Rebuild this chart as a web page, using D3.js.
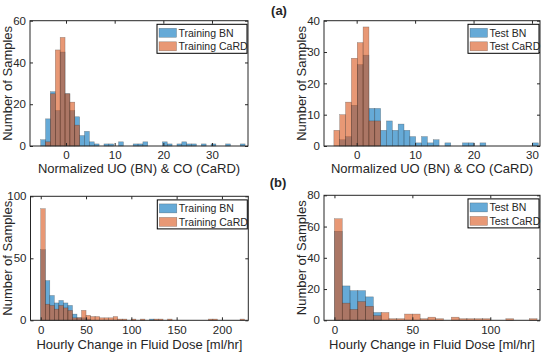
<!DOCTYPE html>
<html><head><meta charset="utf-8">
<script src="https://cdn.jsdelivr.net/npm/d3@7"></script>
<style>
body{margin:0;background:#fff}
text{font-family:"Liberation Sans",Arial,sans-serif;fill:#262626}
</style>
</head><body>
<svg id="c" width="550" height="354"></svg>
<script>
// ---------- data ----------
const uoBinWidth = 1;
const uoTrainBinStart = -5.2;
const uoTrainBN = [3,13,26,17,45,25,17,14,5,7,2,1,0,1,1,0,2,0,0,1,1,2,0,0,0,2,1,0,1,2,1,1,0,1,0,1,0,0,1,0,0,1];
const uoTrainCaRD = [0,2,25,46,52,25,21,10];
const uoTestBinStart = -3.9;
const uoTestBN = [0,2,3,13,26,29,12,12,5,8,5,7,5,3,1,3,1,2,0,1,0,0,1,1,0,1,0,0,0,0,0,0,0,0,1];
const uoTestCaRD = [5,10,14,28,33,38,8,8];
const fluidBinWidth = 5;
const fluidBinStart = 0;
const fluidTrainBN = [57,32,20,14,16,14,12,5,2,2,1,0,0,0,0,0,0,0,0,0,0,0,0,0,1];
const fluidTrainCaRD = [90,13,12,9,12,10,8,2,2,8,4,3,3,2,2,2,3,1,1,0,1,0,1,0,0,1,1,0,1,0,0,0,0,0,0,0,0,1,1,0,0,0,0,0,1];
const fluidTestBN = [57,22,19,19,15,5];
const fluidTestCaRD = [65,11,7,12,9,3,5,1,1,4,4,1,2,1,0,2,1,1,1,1,0,0,1,0,0,1];

const uoXTicks = [0,10,20,30];
const uoTrainYTicks = [0,20,40,60];
const uoTestYTicks = [0,10,20,30,40];
const fluidTrainXTicks = [0,50,100,150,200];
const fluidTrainYTicks = [0,50,100];
const fluidTestXTicks = [0,50,100];
const fluidTestYTicks = [0,20,40,60,80];

const uoXLabel = "Normalized UO (BN) & CO (CaRD)";
const fluidXLabel = "Hourly Change in Fluid Dose [ml/hr]";
const yLabel = "Number of Samples";
const trainLegend = ["Training BN","Training CaRD"];
const testLegend = ["Test BN","Test CaRD"];
const panelTags = ["(a)","(b)"];

// ---------- layout ----------
const blue = "rgb(0,114,189)", orange = "rgb(217,83,25)";
const panels = [
  {bn:uoTrainBN, card:uoTrainCaRD, start:uoTrainBinStart, w:uoBinWidth,
   box:[30,248,20.7,146], xdom:[-7.4,37.4], ydom:[0,60], xt:uoXTicks, yt:uoTrainYTicks,
   xl:uoXLabel, leg:trainLegend, legW:90, tickBase:159, labBase:173.3},
  {bn:uoTestBN, card:uoTestCaRD, start:uoTestBinStart, w:uoBinWidth,
   box:[324,540,20.7,146], xdom:[-5.59,31.37], ydom:[0,40], xt:uoXTicks, yt:uoTestYTicks,
   xl:uoXLabel, leg:testLegend, legW:71, tickBase:159, labBase:173.3},
  {bn:fluidTrainBN, card:fluidTrainCaRD, start:fluidBinStart, w:fluidBinWidth,
   box:[30.5,248.3,196.3,320.3], xdom:[-11.3,229.1], ydom:[0,100], xt:fluidTrainXTicks, yt:fluidTrainYTicks,
   xl:fluidXLabel, leg:trainLegend, legW:90, tickBase:334, labBase:348.6},
  {bn:fluidTestBN, card:fluidTestCaRD, start:fluidBinStart, w:fluidBinWidth,
   box:[324,540,195.3,320.3], xdom:[-6.7,131.9], ydom:[0,80], xt:fluidTestXTicks, yt:fluidTestYTicks,
   xl:fluidXLabel, leg:testLegend, legW:71, tickBase:334, labBase:348.6}
];

const svg = d3.select("#c");
const tickFs = 11.5, labFs = 13, legFs = 10.5;

panels.forEach(p => {
  const [L,R,T,B] = p.box;
  const x = d3.scaleLinear().domain(p.xdom).range([L,R]);
  const y = d3.scaleLinear().domain(p.ydom).range([B,T]);
  const g = svg.append("g");

  function bars(vals, color){
    const d = vals.map((v,i)=>({x0:p.start+i*p.w, x1:p.start+(i+1)*p.w, v})).filter(d=>d.v>0);
    g.append("g").selectAll("rect").data(d).join("rect")
      .attr("x", d=>x(d.x0)).attr("width", d=>x(d.x1)-x(d.x0))
      .attr("y", d=>y(d.v)).attr("height", d=>y(0)-y(d.v))
      .attr("fill", color).attr("fill-opacity",0.6)
      .attr("stroke","#262626").attr("stroke-opacity",0.45).attr("stroke-width",0.5);
  }
  bars(p.bn, blue);
  bars(p.card, orange);

  // axes
  const ax = g.append("g").attr("transform",`translate(0,${B})`)
    .call(d3.axisBottom(x).tickValues(p.xt).tickSize(-3).tickPadding(p.tickBase-B-0.71*tickFs));
  const at = g.append("g").attr("transform",`translate(0,${T})`)
    .call(d3.axisTop(x).tickValues(p.xt).tickSize(-3).tickFormat(""));
  const al = g.append("g").attr("transform",`translate(${L},0)`)
    .call(d3.axisLeft(y).tickValues(p.yt).tickSize(-3).tickPadding(4));
  const ar = g.append("g").attr("transform",`translate(${R},0)`)
    .call(d3.axisRight(y).tickValues(p.yt).tickSize(-3).tickFormat(""));
  [ax,at,al,ar].forEach(a=>{
    a.select(".domain").remove();
    a.selectAll("line").attr("stroke","#262626");
    a.selectAll("text").style("font-size",tickFs+"px").attr("fill","#262626")
      .style("font-family",'"Liberation Sans",Arial,sans-serif');
  });
  g.append("rect").attr("x",L).attr("y",T).attr("width",R-L).attr("height",B-T)
    .attr("fill","none").attr("stroke","#262626").attr("stroke-width",1);

  // labels
  g.append("text").attr("x",(L+R)/2).attr("y",p.labBase).attr("text-anchor","middle")
    .style("font-size",labFs+"px").text(p.xl);
  g.append("text").attr("transform",`translate(${L-18.5},${(T+B)/2}) rotate(-90)`)
    .attr("text-anchor","middle").style("font-size",labFs+"px").text(yLabel);

  // legend
  const lx = R-1-p.legW, ly = T+3.6, lh = 29;
  const lg = g.append("g");
  lg.append("rect").attr("x",lx).attr("y",ly).attr("width",p.legW).attr("height",lh)
    .attr("fill","#fff").attr("stroke","#000").attr("stroke-width",1);
  [[blue,p.leg[0]],[orange,p.leg[1]]].forEach(([c,t],i)=>{
    const cy = ly + 8.5 + i*13.5;
    lg.append("rect").attr("x",lx+2).attr("y",cy-4.5).attr("width",17.5).attr("height",9)
      .attr("fill",c).attr("fill-opacity",0.6).attr("stroke","#262626").attr("stroke-opacity",0.45).attr("stroke-width",0.5);
    lg.append("text").attr("x",lx+21.5).attr("y",cy+3.8).style("font-size",legFs+"px").text(t);
  });
});

svg.append("text").attr("x",279).attr("y",15).attr("text-anchor","middle")
  .style("font-size","13px").style("font-weight","bold").attr("fill","#000").text(panelTags[0]);
svg.append("text").attr("x",278).attr("y",187).attr("text-anchor","middle")
  .style("font-size","13px").style("font-weight","bold").attr("fill","#000").text(panelTags[1]);
</script>
</body></html>
